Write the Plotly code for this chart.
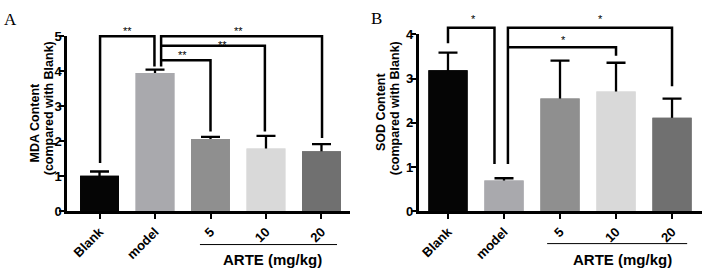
import plotly.graph_objects as go

# ---------------- data ----------------
categories = ["Blank", "model", "5", "10", "20"]
bar_colors = ["#050505", "#a9a9ad", "#8f8f8f", "#d9d9d9", "#707070"]

mda_mean = [1.02, 3.95, 2.07, 1.80, 1.72]
mda_err = [0.12, 0.10, 0.06, 0.36, 0.20]

sod_mean = [3.19, 0.70, 2.55, 2.71, 2.12]
sod_err = [0.40, 0.05, 0.86, 0.65, 0.43]

# significance brackets (x in category index units, y in data units)
mda_br_x = [[0.01, 0.01, 0.99, 0.99], [1.11, 1.11, 4.01, 4.01], [1.11, 2.98, 2.98], [1.11, 2.0, 2.0]]
mda_br_y = [[1.38, 5.0, 5.0, 4.14], [4.14, 5.0, 5.0, 2.10], [4.73, 4.73, 2.28], [4.32, 4.32, 2.28]]
mda_star_text = ["**", "**", "**", "**"]
mda_star_x = [0.5, 2.5, 2.22, 1.5]
mda_star_y = [5.14, 5.14, 4.76, 4.46]

sod_br_x = [[0.0, 0.0, 0.83, 0.83], [1.07, 1.07, 4.0, 4.0], [1.07, 3.0, 3.0]]
sod_br_y = [[3.80, 4.15, 4.15, 1.07], [1.07, 4.15, 4.15, 2.83], [3.71, 3.71, 3.52]]
sod_star_text = ["*", "*", "*"]
sod_star_x = [0.45, 2.73, 2.07]
sod_star_y = [4.36, 4.36, 3.88]

FONT = "Arial, Liberation Sans, sans-serif"
SERIF = "Times New Roman, Liberation Serif, serif"

fig = go.Figure()

xs_cat = list(range(len(categories)))

# bars: first a layer carrying symmetric error bars, then an identical opaque
# layer on top that hides the lower half of the whiskers (one-sided SEM look)
for mean, err, xa, ya in [(mda_mean, mda_err, "x", "y"), (sod_mean, sod_err, "x2", "y2")]:
    fig.add_trace(go.Bar(
        x=xs_cat, y=mean, width=0.7,
        marker=dict(color=bar_colors, line=dict(width=0)),
        error_y=dict(type="data", array=err, color="black", thickness=2.3, width=9.5),
        xaxis=xa, yaxis=ya, hoverinfo="skip", showlegend=False))
    fig.add_trace(go.Bar(
        x=xs_cat, y=mean, width=0.7,
        marker=dict(color=bar_colors, line=dict(width=0)),
        xaxis=xa, yaxis=ya, hoverinfo="skip", showlegend=False))

# brackets
for bx, by, xa, ya in [(mda_br_x, mda_br_y, "x", "y3"), (sod_br_x, sod_br_y, "x2", "y4")]:
    for xs, ys in zip(bx, by):
        fig.add_trace(go.Scatter(x=xs, y=ys, mode="lines",
                                 line=dict(color="black", width=2.5),
                                 xaxis=xa, yaxis=ya, hoverinfo="skip", showlegend=False))

annotations = []
for txt, sx, sy, xr, yr in ([(t, a, b, "x", "y3") for t, a, b in zip(mda_star_text, mda_star_x, mda_star_y)] +
                            [(t, a, b, "x2", "y4") for t, a, b in zip(sod_star_text, sod_star_x, sod_star_y)]):
    annotations.append(dict(text=txt, x=sx, y=sy, xref=xr, yref=yr, showarrow=False,
                            font=dict(family=FONT, size=11, color="black"),
                            xanchor="center", yanchor="middle"))

# panel letters
annotations.append(dict(text="A", x=10 / 704, y=1 - 13 / 280, xref="paper", yref="paper", showarrow=False,
                        font=dict(family=SERIF, size=17, color="black"), xanchor="center", yanchor="middle"))
annotations.append(dict(text="B", x=376 / 704, y=1 - 12 / 280, xref="paper", yref="paper", showarrow=False,
                        font=dict(family=SERIF, size=17, color="black"), xanchor="center", yanchor="middle"))

# y titles
for txt, px, py in [("MDA Content", 35, 122), ("(compared with Blank)", 49, 107),
                    ("SOD Content", 381, 110), ("(compared with Blank)", 395, 107)]:
    annotations.append(dict(text=txt, x=px / 704, y=1 - py / 280, xref="paper", yref="paper",
                            showarrow=False, textangle=-90,
                            font=dict(family=FONT, size=12.5, color="black", weight="bold"),
                            xanchor="center", yanchor="middle"))

# ARTE group labels
for xr, cx in [("x", 3.11), ("x2", 3.12)]:
    annotations.append(dict(text="ARTE (mg/kg)", x=cx, y=1 - 267 / 280, xref=xr, yref="paper",
                            showarrow=False, font=dict(family=FONT, size=15, color="black", weight="bold"),
                            xanchor="center", yanchor="middle"))

shapes = [
    dict(type="line", xref="x", yref="paper", x0=1.81, x1=4.28, y0=1 - 251 / 280, y1=1 - 251 / 280,
         line=dict(color="black", width=1)),
    dict(type="line", xref="x2", yref="paper", x0=1.77, x1=4.27, y0=1 - 250 / 280, y1=1 - 250 / 280,
         line=dict(color="black", width=1)),
]

xcommon = dict(tickvals=xs_cat, ticktext=categories, tickangle=-45,
               ticks="outside", ticklen=5, tickwidth=2, tickcolor="black",
               showline=True, linewidth=2.5, linecolor="black", showgrid=False, zeroline=False,
               tickfont=dict(family=FONT, size=13, color="black", weight="bold"))
ycommon = dict(ticks="outside", ticklen=5, tickwidth=2, tickcolor="black", ticklabelstandoff=-5,
               showline=True, linewidth=2.5, linecolor="black", showgrid=False, zeroline=False,
               tickfont=dict(family=FONT, size=13, color="black", weight="bold"))

ya_dom = [1 - 216 / 280, 1 - 31 / 280]
yb_dom = [1 - 216 / 280, 1 - 29 / 280]

fig.update_layout(
    width=704, height=280, margin=dict(l=0, r=0, t=0, b=0),
    paper_bgcolor="white", plot_bgcolor="rgba(0,0,0,0)", showlegend=False,
    barmode="overlay",
    xaxis=dict(domain=[67 / 704, 350 / 704], range=[-0.586, 4.514], anchor="y", **xcommon),
    yaxis=dict(domain=ya_dom, range=[0, 5], tickvals=[0, 1, 2, 3, 4, 5], anchor="x", **ycommon),
    xaxis2=dict(domain=[418.7 / 704, 702 / 704], range=[-0.523, 4.535], anchor="y2", **xcommon),
    yaxis2=dict(domain=yb_dom, range=[0, 4], tickvals=[0, 1, 2, 3, 4], anchor="x2", **ycommon),
    yaxis3=dict(domain=[ya_dom[0], 1.0], range=[0, 5 * (1 - ya_dom[0]) / (ya_dom[1] - ya_dom[0])],
                anchor="x", visible=False),
    yaxis4=dict(domain=[yb_dom[0], 1.0], range=[0, 4 * (1 - yb_dom[0]) / (yb_dom[1] - yb_dom[0])],
                anchor="x2", visible=False),
    annotations=annotations, shapes=shapes,
)

fig.write_html("out.html", config={"displayModeBar": False},
               post_script="document.body.style.margin='0';document.body.style.overflow='hidden';")
